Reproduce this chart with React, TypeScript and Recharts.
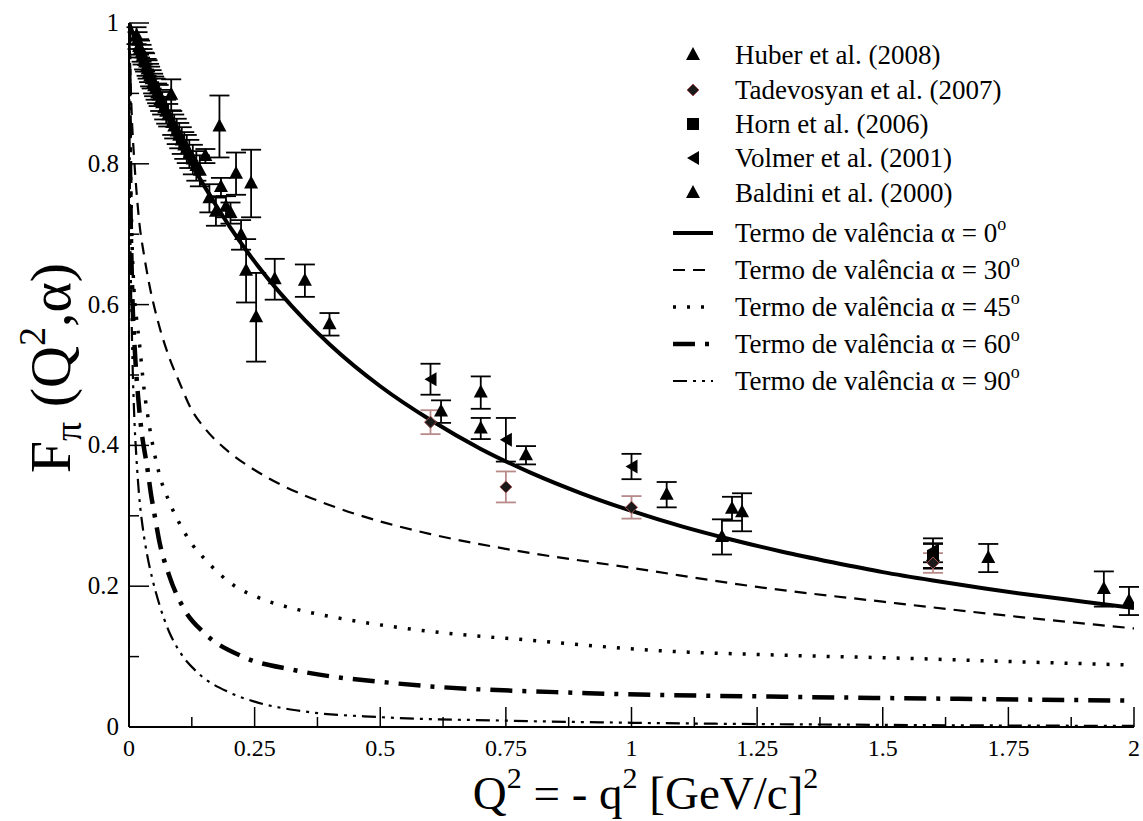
import React from 'react';
import { ComposedChart, Line, Scatter, ErrorBar, XAxis, YAxis, Legend, Label } from 'recharts';

const SERIF = "'Liberation Serif', 'Times New Roman', serif";

// Axis ticks (majors get a label, the rest are minor marks)
const xTicks = [0, 0.125, 0.25, 0.375, 0.5, 0.625, 0.75, 0.875, 1, 1.125, 1.25, 1.375, 1.5, 1.625, 1.75, 1.875, 2];
const xTickLabels = ['0', '0.25', '0.5', '0.75', '1', '1.25', '1.5', '1.75', '2'];
const yTicks = [0, 0.1, 0.2, 0.3, 0.4, 0.5, 0.6, 0.7, 0.8, 0.9, 1];
const yTickLabels = ['0', '0.2', '0.4', '0.6', '0.8', '1'];

// Valence term curves, one per mixing angle
const q2Alpha0 = [0, 0.01, 0.02, 0.04, 0.06, 0.08, 0.1, 0.125, 0.15, 0.2, 0.25, 0.3, 0.35, 0.4, 0.5, 0.6, 0.7, 0.8, 0.9, 1.0, 1.1, 1.2, 1.3, 1.4, 1.5, 1.6, 1.7, 1.8, 1.9, 2.0];
const fAlpha0 = [1, 0.981, 0.962, 0.927, 0.893, 0.862, 0.833, 0.799, 0.768, 0.711, 0.661, 0.617, 0.578, 0.543, 0.484, 0.436, 0.395, 0.361, 0.332, 0.307, 0.285, 0.266, 0.249, 0.234, 0.22, 0.208, 0.197, 0.187, 0.178, 0.169];

const q2Alpha30 = [0, 0.003, 0.006, 0.01, 0.015, 0.02, 0.03, 0.04, 0.06, 0.08, 0.1, 0.125, 0.15, 0.2, 0.25, 0.3, 0.4, 0.5, 0.6, 0.75, 1.0, 1.25, 1.5, 1.75, 2.0];
const fAlpha30 = [1, 0.92, 0.86, 0.81, 0.76, 0.72, 0.67, 0.63, 0.57, 0.525, 0.49, 0.45, 0.425, 0.39, 0.365, 0.345, 0.315, 0.292, 0.274, 0.253, 0.226, 0.199, 0.178, 0.158, 0.14];

const q2Alpha45 = [0, 0.002, 0.005, 0.01, 0.015, 0.02, 0.03, 0.04, 0.06, 0.08, 0.1, 0.125, 0.149, 0.213, 0.25, 0.34, 0.4, 0.53, 0.65, 0.787, 1.04, 1.3, 1.55, 1.75, 2.0];
const fAlpha45 = [1, 0.85, 0.72, 0.62, 0.58, 0.55, 0.48, 0.43, 0.36, 0.32, 0.29, 0.26, 0.24, 0.199, 0.186, 0.166, 0.157, 0.142, 0.132, 0.124, 0.109, 0.102, 0.0975, 0.093, 0.088];

const q2Alpha60 = [0, 0.001, 0.003, 0.006, 0.012, 0.018, 0.025, 0.036, 0.045, 0.05, 0.06, 0.08, 0.111, 0.149, 0.226, 0.328, 0.531, 0.915, 1.3, 1.65, 2.0];
const fAlpha60 = [1, 0.88, 0.74, 0.63, 0.53, 0.47, 0.42, 0.37, 0.325, 0.305, 0.265, 0.215, 0.166, 0.134, 0.1, 0.081, 0.062, 0.048, 0.043, 0.04, 0.0374];

const q2Alpha90 = [0, 0.001, 0.003, 0.006, 0.01, 0.015, 0.02, 0.028, 0.036, 0.047, 0.06, 0.08, 0.1, 0.137, 0.2, 0.25, 0.35, 0.5, 0.75, 1.0, 1.5, 2.0];
const fAlpha90 = [1, 0.85, 0.68, 0.55, 0.45, 0.38, 0.33, 0.28, 0.245, 0.209, 0.175, 0.135, 0.108, 0.077, 0.049, 0.036, 0.022, 0.014, 0.009, 0.006, 0.003, 0.0015];

// Measurements: Q2, F_pi and symmetric error
const huberQ2 = [1.6];
const huberF = [0.243];
const huberErr = [0.018];

const tadevosyanQ2 = [0.6, 0.75, 1.0, 1.6];
const tadevosyanF = [0.433, 0.341, 0.312, 0.233];
const tadevosyanErr = [0.017, 0.022, 0.016, 0.014];

const hornQ2 = [1.6];
const hornF = [0.243];
const hornErr = [0.017];

const volmerQ2 = [0.6, 0.75, 1.0, 1.6];
const volmerF = [0.494, 0.408, 0.37, 0.251];
const volmerErr = [0.022, 0.031, 0.018, 0.017];

const baldiniQ2 = [
  0.015, 0.017, 0.02, 0.022, 0.025, 0.027, 0.03, 0.032, 0.035, 0.037, 0.04, 0.042, 0.045, 0.048, 0.05, 0.053,
  0.056, 0.059, 0.062, 0.066, 0.07, 0.074, 0.078, 0.084, 0.086, 0.09, 0.095, 0.1, 0.105, 0.11, 0.115, 0.12,
  0.127, 0.134, 0.141, 0.152, 0.16, 0.173, 0.18, 0.183, 0.193, 0.202, 0.213, 0.223, 0.233, 0.243, 0.253, 0.29,
  0.35, 0.399, 0.621, 0.7, 0.7, 0.79, 1.07, 1.18, 1.2, 1.22, 1.71, 1.94, 1.99,
];
const baldiniF = [
  0.982, 0.975, 0.966, 0.963, 0.957, 0.952, 0.946, 0.944, 0.937, 0.934, 0.929, 0.924, 0.92, 0.914, 0.91, 0.906,
  0.9, 0.897, 0.89, 0.886, 0.879, 0.874, 0.869, 0.898, 0.858, 0.853, 0.846, 0.84, 0.833, 0.826, 0.821, 0.814,
  0.806, 0.797, 0.79, 0.811, 0.751, 0.732, 0.853, 0.767, 0.739, 0.73, 0.786, 0.699, 0.648, 0.772, 0.582, 0.636,
  0.634, 0.572, 0.448, 0.475, 0.424, 0.386, 0.33, 0.27, 0.31, 0.305, 0.24, 0.196, 0.179,
];
const baldiniErr = [
  0.012, 0.012, 0.011, 0.012, 0.012, 0.011, 0.012, 0.013, 0.012, 0.013, 0.013, 0.014, 0.013, 0.014, 0.014, 0.015,
  0.014, 0.015, 0.015, 0.016, 0.016, 0.017, 0.016, 0.022, 0.017, 0.017, 0.018, 0.018, 0.019, 0.019, 0.02, 0.02,
  0.021, 0.021, 0.022, 0.01, 0.02, 0.02, 0.044, 0.013, 0.015, 0.015, 0.03, 0.021, 0.045, 0.048, 0.063, 0.029,
  0.023, 0.016, 0.016, 0.023, 0.015, 0.013, 0.018, 0.025, 0.017, 0.027, 0.02, 0.025, 0.02,
];

const curve = (xs: number[], ys: number[]) => xs.map((x, i) => ({ x, y: ys[i] }));
const points = (xs: number[], ys: number[], es: number[]) => xs.map((x, i) => ({ x, y: ys[i], e: es[i] }));

const curves = [
  { name: 'a0', deg: '0', data: curve(q2Alpha0, fAlpha0), width: 4, dash: undefined },
  { name: 'a30', deg: '30', data: curve(q2Alpha30, fAlpha30), width: 2.2, dash: '12 8' },
  { name: 'a45', deg: '45', data: curve(q2Alpha45, fAlpha45), width: 3.5, dash: '3 11' },
  { name: 'a60', deg: '60', data: curve(q2Alpha60, fAlpha60), width: 4.5, dash: '22 10 4 10' },
  { name: 'a90', deg: '90', data: curve(q2Alpha90, fAlpha90), width: 2.2, dash: '14 6 3 6 3 6' },
];

const BROWN = '#b88a8a';

// marker glyphs
const upTri = (cx: number, cy: number) => (
  <path d={`M${cx},${cy - 8}L${cx - 7},${cy + 5}L${cx + 7},${cy + 5}Z`} fill="#000" />
);
const leftTri = (cx: number, cy: number) => (
  <path d={`M${cx - 6},${cy}L${cx + 6},${cy - 7}L${cx + 6},${cy + 7}Z`} fill="#000" />
);
const square = (cx: number, cy: number) => <rect x={cx - 6} y={cy - 6} width={12} height={12} fill="#000" />;
const diamond = (cx: number, cy: number) => (
  <path d={`M${cx},${cy - 6}L${cx + 6},${cy}L${cx},${cy + 6}L${cx - 6},${cy}Z`} fill="#1a1a1a" stroke="#a05050" strokeWidth={1} />
);

const shapeOf = (draw: (cx: number, cy: number) => React.ReactElement) => (p: any) => draw(p.cx, p.cy);

const isMajor = (v: number, step: number) => Math.abs(v / step - Math.round(v / step)) < 1e-6;
const fmt = (v: number, labels: string[], step: number) => labels[Math.round(v / step)];

const BottomTick = (props: any) => {
  const { x, y, payload } = props;
  const major = isMajor(payload.value, 0.25);
  return (
    <g>
      <line x1={x} x2={x} y1={y} y2={y - (major ? 20 : 10)} stroke="#000" strokeWidth={1.5} />
      {major && (
        <text x={x} y={y + 29} textAnchor="middle" fontSize={24} fontFamily={SERIF} fill="#000">
          {fmt(payload.value, xTickLabels, 0.25)}
        </text>
      )}
    </g>
  );
};

const TopTick = (props: any) => {
  const { x, y, payload } = props;
  const major = isMajor(payload.value, 0.25);
  return <line x1={x} x2={x} y1={y} y2={y + (major ? 20 : 10)} stroke="#000" strokeWidth={1.5} />;
};

const LeftTick = (props: any) => {
  const { x, y, payload } = props;
  const major = isMajor(payload.value, 0.2);
  return (
    <g>
      <line x1={x} x2={x + (major ? 20 : 10)} y1={y} y2={y} stroke="#000" strokeWidth={1.5} />
      {major && (
        <text x={x - 10} y={y + 8} textAnchor="end" fontSize={25} fontFamily={SERIF} fill="#000">
          {fmt(payload.value, yTickLabels, 0.2)}
        </text>
      )}
    </g>
  );
};

const RightTick = (props: any) => {
  const { x, y, payload } = props;
  const major = isMajor(payload.value, 0.2);
  return <line x1={x} x2={x - (major ? 20 : 10)} y1={y} y2={y} stroke="#000" strokeWidth={1.5} />;
};

const XTitle = (props: any) => {
  const { viewBox } = props;
  const cx = viewBox.x + viewBox.width / 2 + 14;
  const y = viewBox.y + 82;
  return (
    <text x={cx} y={y} textAnchor="middle" fontSize={47} fontFamily={SERIF} fill="#000">
      Q<tspan dy={-21} fontSize={30}>2</tspan>
      <tspan dy={21}> = - q</tspan>
      <tspan dy={-21} fontSize={30}>2</tspan>
      <tspan dy={21}> [GeV/c]</tspan>
      <tspan dy={-21} fontSize={30}>2</tspan>
    </text>
  );
};

const YTitle = (props: any) => {
  const { viewBox } = props;
  const cx = viewBox.x + 70;
  const cy = viewBox.y + 345;
  return (
    <text x={cx} y={cy} transform={`rotate(-90, ${cx}, ${cy})`} textAnchor="middle" fontSize={58} fontFamily={SERIF} fill="#000">
      F<tspan dy={11} fontSize={38}>π</tspan>
      <tspan dy={-11}> (Q</tspan>
      <tspan dy={-25} fontSize={38}>2</tspan>
      <tspan dy={25}>,α)</tspan>
    </text>
  );
};

const markerRows = [
  { label: 'Huber et al. (2008)', draw: upTri },
  { label: 'Tadevosyan et al. (2007)', draw: diamond },
  { label: 'Horn et al. (2006)', draw: square },
  { label: 'Volmer et al. (2001)', draw: leftTri },
  { label: 'Baldini et al. (2000)', draw: upTri },
];
const markerRowY = [25, 60, 94, 128, 163];
const lineRowY = [203, 240, 277, 314, 351];

const LegendBox = () => (
  <div style={{ position: 'relative', width: 470, height: 380, fontFamily: SERIF, fontSize: 27, color: '#000' }}>
    {markerRows.map((r, i) => (
      <div key={r.label} style={{ position: 'absolute', left: 0, top: markerRowY[i] - 17, height: 34, display: 'flex', alignItems: 'center' }}>
        <svg width={56} height={34} style={{ display: 'block' }}>
          {r.draw(28, 17)}
        </svg>
        <span style={{ marginLeft: 14, whiteSpace: 'nowrap' }}>{r.label}</span>
      </div>
    ))}
    {curves.map((c, i) => (
      <div key={c.name} style={{ position: 'absolute', left: 0, top: lineRowY[i] - 17, height: 34, display: 'flex', alignItems: 'center' }}>
        <svg width={56} height={34} style={{ display: 'block' }}>
          <line x1={8} x2={48} y1={17} y2={17} stroke="#000" strokeWidth={c.width} strokeDasharray={c.dash} />
        </svg>
        <span style={{ marginLeft: 14, whiteSpace: 'nowrap' }}>
          Termo de valência α = {c.deg}
          <sup style={{ fontSize: 18, verticalAlign: 'top', position: 'relative', top: -4 }}>o</sup>
        </span>
      </div>
    ))}
  </div>
);

export default function App() {
  return (
    <div style={{ position: 'absolute', left: 0, top: 0, width: 1143, height: 821, background: '#fff' }}>
      <ComposedChart width={1143} height={821} margin={{ top: 23, right: 9, bottom: 0, left: 0 }}>
        <XAxis
          type="number"
          dataKey="x"
          domain={[0, 2]}
          ticks={xTicks}
          interval={0}
          allowDataOverflow
          height={94}
          tickSize={0}
          tickMargin={0}
          tick={BottomTick}
          axisLine={{ stroke: '#000', strokeWidth: 2 }}
        >
          <Label content={<XTitle />} />
        </XAxis>
        <XAxis
          xAxisId="top"
          orientation="top"
          type="number"
          dataKey="x"
          domain={[0, 2]}
          ticks={xTicks}
          interval={0}
          allowDataOverflow
          height={0}
          tickSize={0}
          tickMargin={0}
          tick={TopTick}
          axisLine={{ stroke: '#000', strokeWidth: 2 }}
        />
        <YAxis
          type="number"
          dataKey="y"
          domain={[0, 1]}
          ticks={yTicks}
          interval={0}
          allowDataOverflow
          width={129}
          tickSize={0}
          tickMargin={0}
          tick={LeftTick}
          axisLine={{ stroke: '#000', strokeWidth: 2 }}
        >
          <Label content={<YTitle />} />
        </YAxis>
        <YAxis
          yAxisId="right"
          orientation="right"
          type="number"
          dataKey="y"
          domain={[0, 1]}
          ticks={yTicks}
          interval={0}
          allowDataOverflow
          width={0}
          tickSize={0}
          tickMargin={0}
          tick={RightTick}
          axisLine={{ stroke: '#000', strokeWidth: 2 }}
        />
        <Legend
          layout="vertical"
          align="center"
          verticalAlign="middle"
          wrapperStyle={{ top: 30, left: 665, width: 470, height: 380 }}
          content={<LegendBox />}
        />
        {curves.map((c) => (
          <Line
            key={c.name}
            data={c.data}
            dataKey="y"
            type="monotone"
            stroke="#000"
            strokeWidth={c.width}
            strokeDasharray={c.dash}
            dot={false}
            activeDot={false}
            isAnimationActive={false}
          />
        ))}
        <Scatter data={points(baldiniQ2, baldiniF, baldiniErr)} shape={shapeOf(upTri)} isAnimationActive={false}>
          <ErrorBar dataKey="e" direction="y" width={10} stroke="#000" strokeWidth={1.8} />
        </Scatter>
        <Scatter data={points(volmerQ2, volmerF, volmerErr)} shape={shapeOf(leftTri)} isAnimationActive={false}>
          <ErrorBar dataKey="e" direction="y" width={10} stroke="#000" strokeWidth={1.8} />
        </Scatter>
        <Scatter data={points(hornQ2, hornF, hornErr)} shape={shapeOf(square)} isAnimationActive={false}>
          <ErrorBar dataKey="e" direction="y" width={10} stroke="#000" strokeWidth={1.8} />
        </Scatter>
        <Scatter data={points(huberQ2, huberF, huberErr)} shape={shapeOf(upTri)} isAnimationActive={false}>
          <ErrorBar dataKey="e" direction="y" width={10} stroke="#000" strokeWidth={1.8} />
        </Scatter>
        <Scatter data={points(tadevosyanQ2, tadevosyanF, tadevosyanErr)} shape={shapeOf(diamond)} isAnimationActive={false}>
          <ErrorBar dataKey="e" direction="y" width={10} stroke={BROWN} strokeWidth={1.8} />
        </Scatter>
      </ComposedChart>
    </div>
  );
}
